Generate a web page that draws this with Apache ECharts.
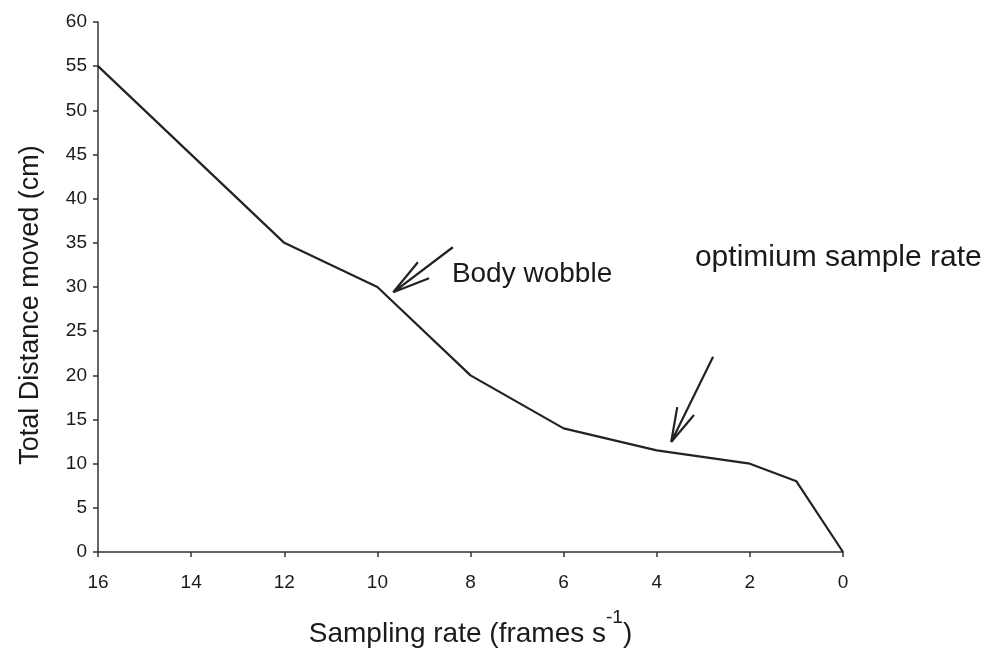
<!DOCTYPE html>
<html>
<head>
<meta charset="utf-8">
<script src="https://cdn.jsdelivr.net/npm/echarts@6/dist/echarts.min.js"></script>
<style>
html,body{margin:0;padding:0;background:#fff;}
#chart{width:993px;height:666px;}
</style>
</head>
<body>
<div id="chart"></div>
<script>
// Sampling rate (frames s-1) and total distance moved (cm)
const samplingRate = [16, 12, 10, 8, 6, 4, 2, 1, 0];
const distance = [55, 35, 30, 20, 14, 11.5, 10, 8, 0];
const xTicks = [16, 14, 12, 10, 8, 6, 4, 2, 0];
const yTicks = [0, 5, 10, 15, 20, 25, 30, 35, 40, 45, 50, 55, 60];

// Annotation arrows in data coordinates: [shaft tail, tip, barb A, barb B]
const arrowBody = { tail: [8.38, 34.5], tip: [9.66, 29.4], barbA: [9.13, 32.8], barbB: [8.89, 31.0] };
const arrowOpt = { tail: [2.79, 22.1], tip: [3.69, 12.45], barbA: [3.56, 16.4], barbB: [3.20, 15.5] };
const notes = [
  { text: 'Body wobble', at: [8.40, 31.4], size: 28 },
  { text: 'optimium sample rate', at: [3.18, 33.3], size: 30 }
];

function arrowData(a) {
  return [a.tail, a.tip, a.barbA, null, a.tip, a.barbB].map(p => p ? p : '-');
}

const FONT = '"Liberation Sans", Arial, sans-serif';
const INK = '#1a1a1a';
const chart = echarts.init(document.getElementById('chart'));
chart.setOption({
  animation: false,
  backgroundColor: '#ffffff',
  grid: { left: 98, right: 150, top: 22, bottom: 114, containLabel: false },
  xAxis: {
    type: 'value', inverse: true, min: 0, max: 16, interval: 2,
    name: '{a|Sampling rate (frames s}{s|-1}{a|)}',
    nameLocation: 'middle', nameGap: 56,
    nameTextStyle: {
      fontFamily: FONT, color: INK,
      rich: {
        a: { fontSize: 28, fontFamily: FONT, color: INK, lineHeight: 40, verticalAlign: 'bottom' },
        s: { fontSize: 19, fontFamily: FONT, color: INK, lineHeight: 40, verticalAlign: 'top' }
      }
    },
    axisLine: { onZero: false, lineStyle: { color: '#333', width: 1.5 } },
    axisTick: { show: true, length: 5, lineStyle: { color: '#333', width: 1.5 } },
    axisLabel: { fontSize: 19, fontFamily: FONT, color: INK, margin: 21,
      formatter: v => xTicks.includes(v) ? String(v) : '' },
    splitLine: { show: false }
  },
  yAxis: {
    type: 'value', min: 0, max: 60, interval: 5, position: 'left',
    name: 'Total Distance moved (cm)',
    nameLocation: 'middle', nameGap: 54, nameRotate: 90,
    nameTextStyle: { fontSize: 27, fontFamily: FONT, color: INK, padding: [0, 36, 0, 0] },
    axisLine: { show: true, onZero: false, lineStyle: { color: '#333', width: 1.5 } },
    axisTick: { show: true, length: 5, lineStyle: { color: '#333', width: 1.5 } },
    axisLabel: { fontSize: 19, fontFamily: FONT, color: INK, margin: 11,
      formatter: v => yTicks.includes(v) ? String(v) : '' },
    splitLine: { show: false }
  },
  series: [
    {
      type: 'line',
      data: samplingRate.map((x, i) => [x, distance[i]]),
      symbol: 'none',
      lineStyle: { color: '#222', width: 2.2 }
    },
    {
      type: 'line', data: arrowData(arrowBody), symbol: 'none', connectNulls: false,
      lineStyle: { color: '#222', width: 2.2 }
    },
    {
      type: 'line', data: arrowData(arrowOpt), symbol: 'none', connectNulls: false,
      lineStyle: { color: '#222', width: 2.2 }
    },
    {
      type: 'scatter', symbolSize: 0, itemStyle: { color: INK, opacity: 1 },
      emphasis: { disabled: true },
      data: notes.map(n => ({
        value: n.at, name: n.text,
        label: { fontSize: n.size }
      })),
      label: {
        show: true, position: 'right', distance: 0, formatter: p => p.name,
        fontFamily: FONT, color: INK, opacity: 1
      }
    }
  ]
});
</script>
</body>
</html>
